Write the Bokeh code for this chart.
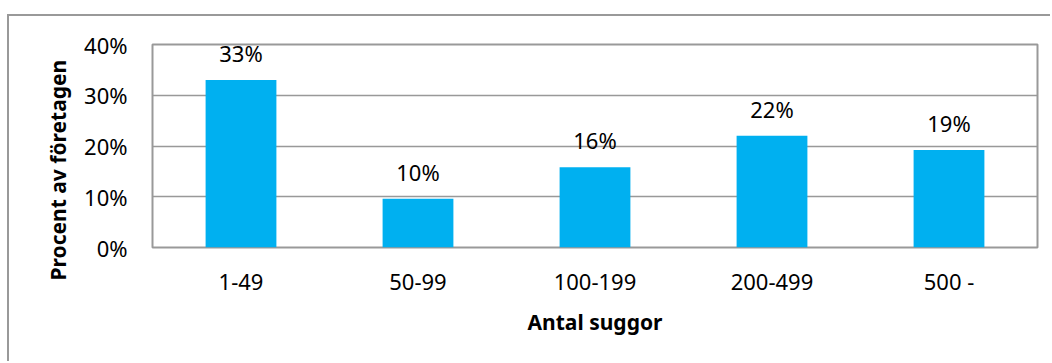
from bokeh.plotting import figure
from bokeh.models import ColumnDataSource, LabelSet, Title, FixedTicker
from bokeh.core.properties import value
from bokeh.embed import file_html
from bokeh.resources import INLINE

# Share of companies by herd size (number of sows)
categories = ["1-49", "50-99", "100-199", "200-499", "500 -"]
share_pct = [33.0, 9.6, 15.8, 22.0, 19.2]
y_ticks = [0, 10, 20, 30, 40]

FONT = "Noto Sans"
GRID = "#999999"
BAR = "#00B0F0"

source = ColumnDataSource(dict(
    cat=categories,
    val=share_pct,
    txt=[f"{v:.0f}%" for v in share_pct],
))

p = figure(
    x_range=categories, y_range=(0, 40),
    width=1043, height=347,
    output_backend="svg", toolbar_location=None,
    min_border_left=143, min_border_right=15,
    min_border_top=28, min_border_bottom=116,
)
# outer chart border (left and top edges visible in the window)
p.styles = {
    "margin-left": "7px", "margin-top": "14px",
    "border-left": f"2px solid {GRID}", "border-top": f"2px solid {GRID}",
}

p.vbar(x="cat", top="val", width=0.4, source=source, color=BAR, line_color=None)

labels = LabelSet(x="cat", y="val", text="txt", source=source,
                  y_offset=27, text_align="center", text_baseline="middle",
                  text_font=value(FONT), text_font_size="22px", text_color="#000000")
p.add_layout(labels)

# frame and grid
p.outline_line_color = GRID
p.outline_line_width = 2
p.xgrid.grid_line_color = None
p.ygrid.grid_line_color = GRID
p.ygrid.grid_line_width = 1.5
p.ygrid.ticker = FixedTicker(ticks=y_ticks)

# y axis
p.yaxis.ticker = FixedTicker(ticks=y_ticks)
p.yaxis.major_label_overrides = {t: f"{t}%" for t in y_ticks}
p.yaxis.axis_line_color = None
p.yaxis.major_tick_line_color = None
p.yaxis.minor_tick_line_color = None
p.yaxis.major_tick_out = 0
p.yaxis.major_tick_in = 0
p.yaxis.major_label_standoff = 25
p.yaxis.major_label_text_font = FONT
p.yaxis.major_label_text_font_size = "22px"
p.yaxis.major_label_text_color = "#000000"

# x axis
p.xaxis.axis_line_color = None
p.xaxis.major_tick_line_color = None
p.xaxis.major_tick_out = 0
p.xaxis.major_tick_in = 0
p.xaxis.major_label_standoff = 18
p.xaxis.major_label_text_font = FONT
p.xaxis.major_label_text_font_size = "22px"
p.xaxis.major_label_text_color = "#000000"
p.xaxis.axis_label = "Antal suggor"
p.xaxis.axis_label_standoff = 9
p.xaxis.axis_label_text_font = FONT
p.xaxis.axis_label_text_font_size = "21px"
p.xaxis.axis_label_text_font_style = "bold"
p.xaxis.axis_label_text_color = "#000000"

# rotated y title, placed in the left panel outside the axis
ytitle = Title(text="Procent av företagen", align="left", offset=-33,
               text_font=FONT, text_font_size="21px", text_font_style="bold",
               text_color="#000000", standoff=19)
p.add_layout(ytitle, "left")

open("out.html", "w").write(file_html(p, INLINE))
